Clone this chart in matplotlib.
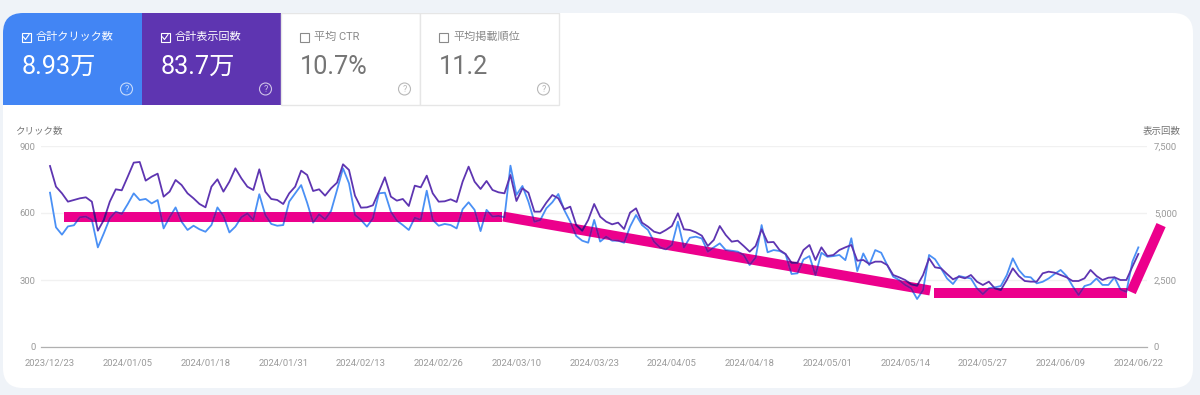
""" plot.py """

import numpy as np
import pandas as pd
import matplotlib
matplotlib.use("Agg")
import matplotlib.pyplot as plt
from matplotlib.patches import Rectangle, FancyBboxPatch, Circle, Polygon
from matplotlib.transforms import IdentityTransform

plt.rcParams['font.family'] = ['Roboto', 'Noto Sans CJK JP', 'DejaVu Sans']

clicks = [
    691, 536, 503, 540, 545, 581, 584, 569, 446, 509, 576, 606, 596, 640, 688, 658, 663, 643, 658, 531,
    581, 625, 561, 524, 543, 527, 516, 546, 625, 587, 513, 539, 581, 598, 569, 684, 591, 551, 543, 546,
    651, 688, 725, 646, 557, 594, 572, 609, 703, 800, 733, 591, 569, 539, 576, 688, 691, 606, 566, 546,
    524, 579, 569, 700, 569, 543, 551, 546, 531, 617, 648, 614, 519, 614, 584, 587, 581, 812, 681, 721,
    651, 561, 569, 621, 648, 685, 613, 561, 497, 476, 467, 569, 472, 494, 476, 476, 467, 539, 591, 546,
    524, 472, 446, 437, 457, 561, 446, 489, 494, 486, 427, 446, 464, 434, 431, 427, 412, 367, 401, 546,
    424, 434, 430, 416, 327, 330, 392, 407, 322, 422, 404, 407, 412, 389, 487, 340, 419, 367, 434, 422,
    367, 315, 300, 278, 263, 215, 255, 412, 393, 352, 307, 282, 318, 312, 307, 263, 237, 263, 267, 273,
    322, 397, 345, 315, 312, 285, 292, 307, 327, 345, 318, 273, 233, 273, 281, 307, 278, 278, 312, 258,
    247, 382, 446,
]
impressions = [
    6754, 5983, 5734, 5423, 5486, 5548, 5585, 5423, 4341, 4739, 5423, 5884, 5846, 6356, 6879, 6904, 6207, 6356, 6468, 5610,
    5797, 6232, 6045, 5734, 5548, 5336, 5212, 5983, 6257, 5797, 6170, 6667, 6294, 5983, 5859, 6630, 5797, 5523, 5486, 5336,
    5734, 5983, 6580, 6419, 5821, 5884, 5647, 5921, 6132, 6817, 6605, 5647, 5199, 5212, 5287, 5797, 6332, 5610, 5461, 5523,
    5262, 6020, 5958, 6394, 5734, 5423, 5436, 5510, 5411, 6170, 6730, 6170, 5896, 6195, 5859, 5772, 5734, 6419, 5448, 5921,
    5759, 5050, 5050, 5386, 5672, 5548, 5137, 5237, 4552, 4341, 4739, 5336, 4863, 4677, 4577, 4640, 4403, 5013, 5174, 4640,
    4490, 4304, 4241, 4366, 4515, 4988, 4391, 4366, 4279, 4154, 3769, 3993, 4515, 4179, 3930, 3968, 3769, 3557, 3769, 4391,
    3905, 3918, 3619, 3470, 3147, 3147, 3619, 3806, 3246, 3719, 3395, 3433, 3619, 3719, 3806, 3221, 3247, 3098, 3185, 3185,
    3060, 2687, 2600, 2500, 2339, 2289, 2687, 3309, 2973, 2936, 2724, 2525, 2625, 2563, 2687, 2438, 2314, 2438, 2189, 2127,
    2500, 2936, 2650, 2463, 2438, 2438, 2749, 2811, 2774, 2687, 2600, 2463, 2463, 2563, 2874, 2650, 2500, 2587, 2600, 2500,
    2500, 2998, 3471,
]
click_ticks = [0, 300, 600, 900]
click_labels = ['0', '300', '600', '900']
impression_ticks = [0, 2500, 5000, 7500]
impression_labels = ['0', '2,500', '5,000', '7,500']

# highlighter strokes: (day, clicks) at each end
stroke_days = [(2.3, 75.6), (75.8, 147.2), (147.8, 180.1), (180.8, 185.8)]
stroke_clicks = [(580, 580), (584, 253), (243, 243), (246, 546)]

card_titles = ['合計クリック数', '合計表示回数', '平均 CTR', '平均掲載順位']
card_values = ['8.93万', '83.7万', '10.7%', '11.2']
card_colors = ['#4285f4', '#5e35b1', 'white', 'white']

BLUE = '#4a90f5'
PURPLE = '#5e35b1'
PINK = '#ec008c'
GREY = '#9a9a9a'

days = np.arange(len(clicks))
tick_days = days[::13]
tick_dates = pd.date_range('2023-12-23', periods=len(clicks))[::13].strftime('%Y/%m/%d')

fig = plt.figure(figsize=(12, 3.95), dpi=100, facecolor='#eff3f8')

###################################################
# page and metric cards, drawn in pixel coordinates
###################################################
bg = fig.add_axes([0, 0, 1, 1], zorder=0)
bg.set_xlim(0, 1200)
bg.set_ylim(395, 0)
bg.axis('off')

panel = FancyBboxPatch((3, 13), 1190, 375, boxstyle='round,pad=0,rounding_size=20',
                       fc='white', ec='none')
bg.add_patch(panel)

for i, title in enumerate(card_titles):
    x0 = 3 + i * 139
    selected = i < 2
    rect = Rectangle((x0, 13), 139, 92, fc=card_colors[i],
                     ec='none' if selected else '#e6e6e6', lw=1)
    bg.add_patch(rect)
    rect.set_clip_path(panel)
    fg = 'white' if selected else '#8a8a8a'
    bg.add_patch(Rectangle((x0 + 18.5, 32.5), 9, 9, fc='none', ec=fg, lw=0.8))
    if selected:
        bg.plot([x0 + 20.5, x0 + 22.5, x0 + 26], [37, 39.5, 34.5], color=fg, lw=0.8)
    bg.text(x0 + 33, 37, title, color=fg, fontsize=8, va='center', ha='left')
    bg.text(x0 + 19, 67, card_values[i], color='white' if selected else '#757575',
            fontsize=18.2, va='center', ha='left')
    hc = 'white' if selected else '#9a9a9a'
    bg.add_patch(Circle((x0 + 123.5, 89), 6, fc='none', ec=hc, lw=0.8, alpha=0.7))
    bg.text(x0 + 123.5, 89, '?', color=hc, fontsize=6.5, va='center', ha='center', alpha=0.7)

bg.text(15, 131, 'クリック数', color='#757575', fontsize=6.8, va='center', ha='left')
bg.text(1181, 131, '表示回数', color='#757575', fontsize=6.8, va='center', ha='right')

###################################################
# chart
###################################################
ax = fig.add_axes([41 / 1200, 48 / 395, 1106 / 1200, 201 / 395], zorder=1)
ax.patch.set_alpha(0)
ax.set_xlim((41 - 50) / 5.98, (1147 - 50) / 5.98)
ax.set_ylim(0, 900)
ax2 = ax.twinx()
ax2.set_zorder(2)
ax2.set_ylim(0, 7500)

for a in (ax, ax2):
    for s in ('top', 'left', 'right'):
        a.spines[s].set_visible(False)
    a.spines['bottom'].set_color('#b0b0b0')
    a.tick_params(length=0, labelsize=6.8, labelcolor=GREY)

ax.set_yticks(click_ticks, click_labels)
ax2.set_yticks(impression_ticks, impression_labels)
ax.tick_params(axis='y', pad=4)
ax2.tick_params(axis='y', pad=5)
ax.set_xticks(tick_days, tick_dates)
ax.tick_params(axis='x', pad=9)
ax.grid(axis='y', color='#f1f1f1', lw=1)
ax.set_axisbelow(True)

ax.plot(days, clicks, color=BLUE, lw=1.3, zorder=3)
ax2.plot(days, impressions, color=PURPLE, lw=1.3, zorder=3)

# highlighter strokes act like a multiply layer, so lines go dark inside them
half_width = 5
for sd, sc in zip(stroke_days, stroke_clicks):
    p = ax.transData.transform(np.column_stack([sd, sc]))
    d = p[1] - p[0]
    n = np.array([-d[1], d[0]]) / np.hypot(*d) * half_width
    poly = Polygon([p[0] + n, p[1] + n, p[1] - n, p[0] - n], closed=True, fc=PINK, ec='none',
                   transform=IdentityTransform(), clip_on=False, zorder=2)
    ax.add_patch(poly)
    dark1, = ax.plot(days, clicks, color='#8a0a8e', lw=1.3, zorder=4)
    dark2, = ax2.plot(days, impressions, color='#4d0a80', lw=1.3, zorder=4)
    dark1.set_clip_path(poly)
    dark2.set_clip_path(poly)

fig.savefig('out.png', dpi=100, facecolor=fig.get_facecolor())
